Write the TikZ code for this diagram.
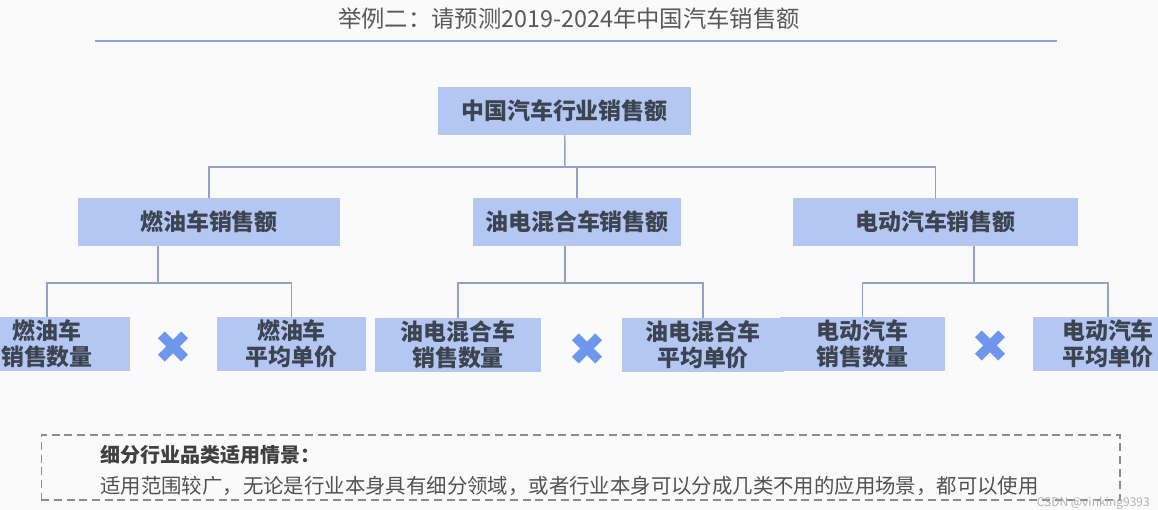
\documentclass[tikz,border=0pt]{standalone}
\usepackage{fontspec}
\setmainfont{Noto Sans CJK SC}
\newfontfamily\symfont{DejaVu Sans}
\usetikzlibrary{positioning}
\definecolor{paper}{HTML}{FAFAFA}
\definecolor{boxfill}{HTML}{B4C7F2}
\definecolor{boxtext}{HTML}{3B4450}
\definecolor{linkcol}{HTML}{8FA2CC}
\definecolor{crosscol}{HTML}{6E96EC}
\definecolor{titlecol}{HTML}{595959}
\definecolor{rulecol}{HTML}{8AA3D6}
\definecolor{dashcol}{HTML}{8C8C8C}

\begin{document}
\begin{tikzpicture}[
    x=0.75pt,y=-0.75pt,
    box/.style={rectangle,fill=boxfill,inner sep=0pt,minimum height=36pt,minimum width=#1,font=\fontsize{17.2}{19.5}\selectfont\bfseries,text=boxtext,align=center},
    leaf/.style={box=#1,minimum height=40.5pt},
    link/.style={draw=linkcol,line width=1.1pt},
    times/.style={font=\symfont\fontsize{34}{34}\selectfont,text=crosscol,inner sep=0pt}
]
\fill[paper] (0,0) rectangle (1158,510);
\useasboundingbox (0,0) rectangle (1158,510);
\clip (0,0) rectangle (1158,510);

% title
\node[font=\fontsize{17.5}{20}\selectfont,text=titlecol] (title) at (569,19) {举例二：请预测2019-2024年中国汽车销售额};
\draw[rulecol,line width=1.5pt] (95,41) -- (1057,41);

% tree
\node[box=190pt] (total) at (564.5,111) {中国汽车行业销售额};
\node[box=196.5pt] (fuel) at (209,222) {燃油车销售额};
\node[box=156pt] (hybrid) at (577,222) {油电混合车销售额};
\node[box=214pt] (elec) at (935.5,222) {电动汽车销售额};

\node[leaf=124pt] (fuelqty) at (47,344) {燃油车\\销售数量};
\node[leaf=112pt] (fuelprice) at (291.5,344) {燃油车\\平均单价};
\node[leaf=124pt] (hybqty) at (458,345) {油电混合车\\销售数量};
\node[leaf=122pt] (hybprice) at (703,345) {油电混合车\\平均单价};
\node[leaf=124pt] (elecqty) at (862.5,344) {电动汽车\\销售数量};
\node[leaf=112pt] (elecprice) at (1108,344) {电动汽车\\平均单价};

\node[times] (x1) at (173,348) {✖};
\node[times] (x2) at (587,350) {✖};
\node[times] (x3) at (990,347) {✖};

\coordinate (hub) at (565,167);
\coordinate (fbar) at (158,283);
\coordinate (hbar) at (565,283);
\coordinate (ebar) at (974,283);

\draw[link] (total) -- (hub);
\draw[link] (hub) -| (fuel);
\draw[link] (hub) -| (hybrid);
\draw[link] (hub) -| (elec);

\draw[link] (fbar |- fuel.south) -- (fbar);
\draw[link] (fbar) -| (fuelqty);
\draw[link] (fbar) -| (fuelprice);
\draw[link] (hbar |- hybrid.south) -- (hbar);
\draw[link] (hbar) -| (hybqty);
\draw[link] (hbar) -| (hybprice);
\draw[link] (ebar |- elec.south) -- (ebar);
\draw[link] (ebar) -| (elecqty);
\draw[link] (ebar) -| (elecprice);

% scene note
\node[draw=dashcol,dash pattern=on 6pt off 3.5pt,line width=1pt,minimum width=809pt,minimum height=48.75pt,inner sep=0pt] (scene) at (580.5,467.5) {};
\node[anchor=west,inner sep=0pt,font=\fontsize{15}{18}\selectfont\bfseries,text=black!75] (scenehead) at (100,455) {细分行业品类适用情景：};
\node[anchor=west,inner sep=0pt,font=\fontsize{15.3}{18}\selectfont,text=black!68] (scenetext) at (100,486) {适用范围较广，无论是行业本身具有细分领域，或者行业本身可以分成几类不用的应用场景，都可以使用};
\node[anchor=east,inner sep=0pt,font=\fontsize{9}{9}\selectfont,text=gray!60] (mark) at (1150,503) {CSDN @vinking9393};
\end{tikzpicture}
\end{document}
